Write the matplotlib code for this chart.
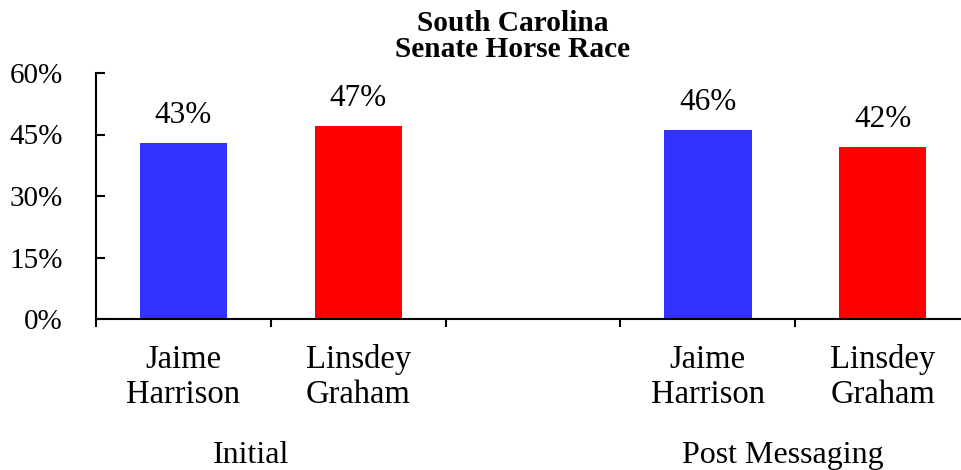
import matplotlib
matplotlib.use("Agg")
import matplotlib.pyplot as plt
import matplotlib.transforms as mtransforms

plt.rcParams['font.family'] = ['Liberation Serif', 'DejaVu Serif']

title_lines = ["South Carolina", "Senate Horse Race"]
categories = ["Jaime\nHarrison", "Linsdey\nGraham", "", "Jaime\nHarrison", "Linsdey\nGraham"]
values = [43, 47, None, 46, 42]
colors = ["#3333FF", "#FF0000", None, "#3333FF", "#FF0000"]
groups = ["Initial", "Post Messaging"]
group_pos = [0.387, 3.43]
yticks = [0, 15, 30, 45, 60]
ytick_labels = ["0%", "15%", "30%", "45%", "60%"]

fig = plt.figure(figsize=(9.61, 4.70), dpi=100)
ax = fig.add_axes([96/961, (470-319)/470, 1 - 96/961, (319-73)/470])

for i, (v, c) in enumerate(zip(values, colors)):
    if v is None:
        continue
    ax.bar(i, v, width=0.5, color=c, zorder=2)
    ax.annotate(f"{v}%", (i, v), xytext=(0, 14.4), textcoords="offset points",
                ha="center", va="baseline", fontsize=22.5)

ax.set_ylim(0, 60)
ax.set_xlim(-0.5, -0.5 + 865/174.8)
ax.set_yticks(yticks)
ax.set_yticklabels(ytick_labels, fontsize=21)
ax.tick_params(axis='y', direction='in', length=6.5, width=1.5, pad=24)
ax.set_xticks([i - 0.5 for i in range(len(categories))])
ax.set_xticklabels([])
ax.tick_params(axis='x', direction='out', length=6, width=1.5)
for s in ['top', 'right']:
    ax.spines[s].set_visible(False)
for s in ['left', 'bottom']:
    ax.spines[s].set_linewidth(1.5)

trans = mtransforms.blended_transform_factory(ax.transData, fig.transFigure)
for i, lab in enumerate(categories):
    if lab:
        ax.text(i, (470-344)/470, lab, transform=trans, ha="center", va="top",
                fontsize=23.5, linespacing=1.2)
for g, x in zip(groups, group_pos):
    ax.text(x, (470-463)/470, g, transform=trans, ha="center", va="baseline",
            fontsize=23)

for line, yb in zip(title_lines, [31, 57]):
    fig.text(513/961, (470-yb)/470, line, ha="center", va="baseline",
             fontsize=21.2, fontweight="bold")

fig.savefig("out.png", dpi=100)
